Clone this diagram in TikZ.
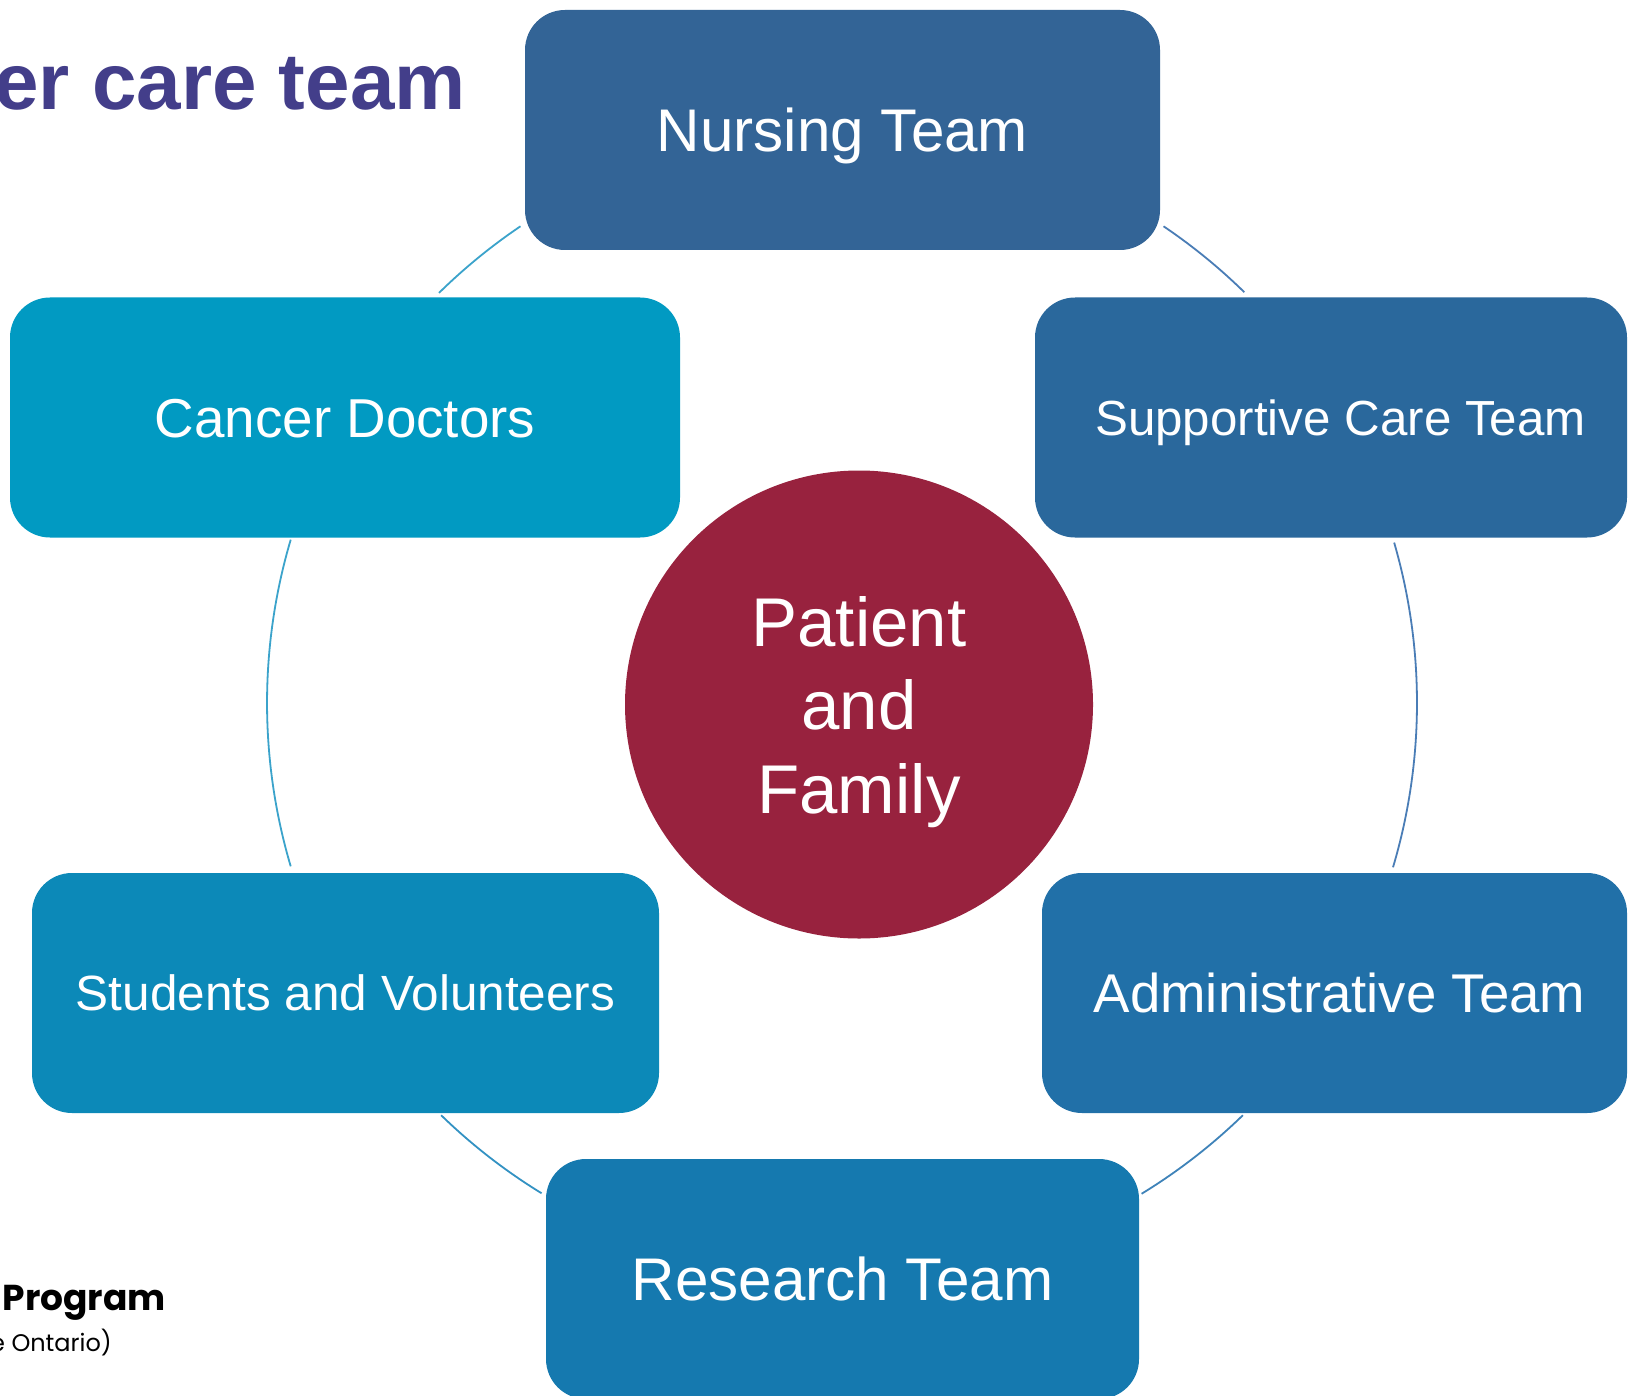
\documentclass[tikz,border=0pt]{standalone}
\usepackage{fontspec}
\setmainfont{Liberation Sans}
\newfontfamily\popfont{Poppins}
\definecolor{cNurse}{HTML}{336496}
\definecolor{cCancer}{HTML}{019AC2}
\definecolor{cSupport}{HTML}{2A689C}
\definecolor{cStudent}{HTML}{0C89B8}
\definecolor{cAdmin}{HTML}{2170A8}
\definecolor{cResearch}{HTML}{1579AF}
\definecolor{cPatient}{HTML}{98223E}
\definecolor{cTitle}{HTML}{433E8A}
\definecolor{rTeal}{HTML}{3BA3CB}
\definecolor{rTealB}{HTML}{3392C3}
\definecolor{rBlue}{HTML}{4A7DB6}
\definecolor{rBlueB}{HTML}{3F83B9}
\tikzset{
  teambox/.style n args={3}{rectangle, rounded corners=40pt, fill=#1, draw=none,
    text=white, minimum width=#2, minimum height=240pt, inner sep=0pt,
    font=\fontsize{#3}{#3}\selectfont, text height=0.716*#3 pt, text depth=0pt},
  ringarc/.style={draw=#1, line width=1.8pt},
  patient/.style={circle, fill=cPatient, draw=none, minimum size=468pt, inner sep=0pt},
  ptext/.style={text=white, align=center, font=\fontsize{69}{83.5}\selectfont, inner sep=0pt},
}
\begin{document}
\begin{tikzpicture}[x=1pt,y=1pt]
\useasboundingbox (0,0) rectangle (1629,-1396);
\fill[white] (0,0) rectangle (1629,-1396);
% ring
\coordinate (ring) at (842,-703);
\draw[ringarc=rBlue] (ring) ++(56:575) arc[start angle=56, end angle=45.6, radius=575];
\draw[ringarc=rBlue] (ring) ++(16.2:575) arc[start angle=16.2, end angle=-16.6, radius=575];
\draw[ringarc=rBlueB] (ring) ++(-45.8:575) arc[start angle=-45.8, end angle=-58.6, radius=575];
\draw[ringarc=rTealB] (ring) ++(-121.5:575) arc[start angle=-121.5, end angle=-134.2, radius=575];
\draw[ringarc=rTeal] (ring) ++(196.5:575) arc[start angle=196.5, end angle=163.5, radius=575];
\draw[ringarc=rTeal] (ring) ++(134.5:575) arc[start angle=134.5, end angle=124, radius=575];
% boxes
\node[teambox={cNurse}{635pt}{60.2}] (nurse) at (842.5,-130) {Nursing Team};
\node[teambox={cCancer}{670pt}{54.8}] (cancer) at (345,-417.5) {Cancer Doctors};
\node[teambox={cSupport}{592pt}{49.3}] (support) at (1331,-417.5) {\hspace*{19pt}Supportive Care Team};
\node[teambox={cStudent}{627pt}{49.5}] (student) at (345.5,-993) {Students and Volunteers};
\node[teambox={cAdmin}{585pt}{54.6}] (admin) at (1334.5,-993) {\hspace*{10pt}Administrative Team};
\node[teambox={cResearch}{593pt}{60.2}] (research) at (842.5,-1279) {Research Team};
% centre
\node[patient] (pf) at (859,-704.5) {};
\node[ptext] (pflabel) at ([yshift=-7.5pt]pf.center) {Patient\\and\\Family};
% title and footer
\node[anchor=base east, inner sep=0pt, text=cTitle, font=\fontsize{80}{90}\selectfont\bfseries] (title) at (466,-110) {er care team};
\node[anchor=base east, inner sep=0pt, font=\popfont\bfseries\fontsize{36}{40}\selectfont] (prog) at (166,-1310) {Program};
\node[anchor=base east, inner sep=0pt, font=\popfont\fontsize{24}{30}\selectfont] (ont) at (112,-1351) {e Ontario)};
\end{tikzpicture}
\end{document}
